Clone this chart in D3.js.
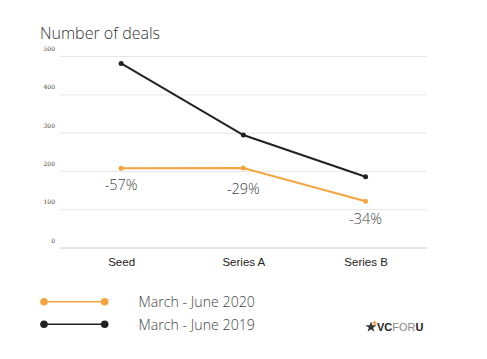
<!DOCTYPE html>
<html><head><meta charset="utf-8">
<script src="https://cdn.jsdelivr.net/npm/d3@7"></script>
<style>body{margin:0;background:#fff}svg{display:block}</style>
</head><body><svg id="c" width="487" height="359"></svg>
<script>
const categories = ["Seed", "Series A", "Series B"];
const values2019 = [482, 295, 186];
const values2020 = [208, 209, 122];
const changeLabels = ["-57%", "-29%", "-34%"];
const yTicks = [0, 100, 200, 300, 400, 500];
const seriesNames = ["March - June 2020", "March - June 2019"];
const colors = ["#f5a540", "#222222"];

const svg = d3.select("#c");
const x = d3.scalePoint().domain(categories).range([60, 426.7]).padding(0.5);
const y = d3.scaleLinear().domain([0, 500]).range([248, 56.5]);

svg.append("text").attr("x", 40).attr("y", 39).text("Number of deals")
  .attr("font-family", "Open Sans").attr("font-weight", 300).attr("font-size", 16).attr("fill", "#333");

const grid = svg.append("g");
yTicks.forEach(t => {
  grid.append("line").attr("x1", 60).attr("x2", 426.7).attr("y1", y(t)).attr("y2", y(t))
    .attr("stroke", t === 0 ? "#c8c8c8" : "#e6e6e6").attr("stroke-width", 1);
  grid.append("text").attr("x", 55).attr("y", y(t) - 5.5).attr("text-anchor", "end")
    .attr("font-family", "DejaVu Serif").attr("font-size", 6).attr("fill", "#444").text(t);
});

const xAxis = svg.append("g").attr("transform", "translate(0,248)")
  .call(d3.axisBottom(x).tickSize(0).tickPadding(10));
xAxis.select(".domain").remove();
xAxis.selectAll("text").attr("font-family", "Liberation Sans").attr("font-size", 11.5).attr("fill", "#222");

const line = d3.line().x((d, i) => x(categories[i])).y(d => y(d));
[values2019, values2020].forEach((vals, k) => {
  const c = k === 0 ? colors[1] : colors[0];
  svg.append("path").attr("d", line(vals)).attr("fill", "none").attr("stroke", c).attr("stroke-width", 2);
  svg.selectAll(null).data(vals).enter().append("circle")
    .attr("cx", (d, i) => x(categories[i])).attr("cy", d => y(d)).attr("r", 2.5).attr("fill", c);
});

const labelOffsets = [22, 26, 23];
svg.selectAll(null).data(changeLabels).enter().append("text")
  .attr("x", (d, i) => x(categories[i])).attr("y", (d, i) => y(values2020[i]) + labelOffsets[i])
  .attr("text-anchor", "middle").attr("font-family", "Open Sans").attr("font-weight", 300)
  .attr("font-size", 14.5).attr("fill", "#444").text(d => d);

const legY = [301.7, 324.3];
seriesNames.forEach((n, i) => {
  const g = svg.append("g");
  g.append("line").attr("x1", 44).attr("x2", 104.7).attr("y1", legY[i]).attr("y2", legY[i])
    .attr("stroke", colors[i]).attr("stroke-width", 1.5);
  g.append("circle").attr("cx", 44).attr("cy", legY[i]).attr("r", 3.8).attr("fill", colors[i]);
  g.append("circle").attr("cx", 104.7).attr("cy", legY[i]).attr("r", 3.8).attr("fill", colors[i]);
  g.append("text").attr("x", 138.5).attr("y", legY[i] + 5.3).text(n)
    .attr("font-family", "Open Sans").attr("font-weight", 300).attr("font-size", 14.2).attr("fill", "#444");
});

// logo
const logo = svg.append("g").attr("transform", "translate(366,326.5)");
logo.append("path").attr("d", d3.symbol().type(d3.symbolStar).size(38)()).attr("transform", "translate(5,0.5)").attr("fill", "#333");
logo.append("path").attr("d", d3.symbol().type(d3.symbolStar).size(10)()).attr("transform", "translate(8.5,-3.5)").attr("fill", "#f5a540");
const lt = logo.append("text").attr("x", 11).attr("y", 4).attr("font-family", "Liberation Sans").attr("font-size", 11);
lt.append("tspan").attr("font-weight", 700).attr("fill", "#222").text("VC");
lt.append("tspan").attr("font-weight", 400).attr("fill", "#888").text("FOR");
lt.append("tspan").attr("font-weight", 700).attr("fill", "#222").text("U");
</script></body></html>
